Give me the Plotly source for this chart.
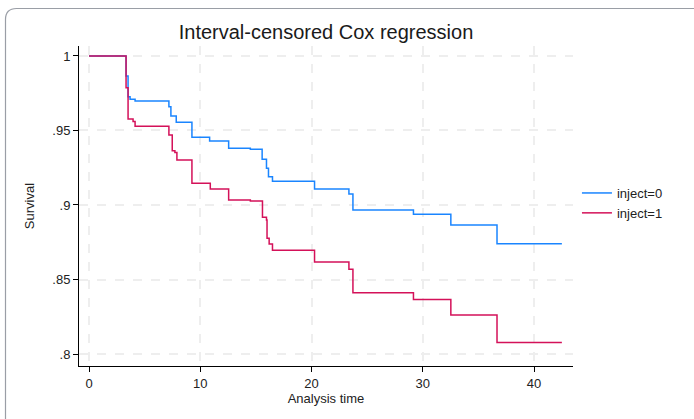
import plotly.graph_objects as go

# ---- data ----
t0 = [0, 3.33, 3.51, 3.69, 4.14, 7.18, 7.36, 7.84, 9.25, 10.84, 12.55, 14.5,
      15.56, 15.95, 16.13, 16.49, 20.27, 23.36, 23.72, 29.16, 32.52, 36.67, 42.5]
s0 = [1, 0.9866, 0.9727, 0.971, 0.9698, 0.966, 0.9597, 0.9555, 0.9455, 0.943,
      0.938, 0.9374, 0.9307, 0.9246, 0.919, 0.9159, 0.9107, 0.9074, 0.8966,
      0.8938, 0.8866, 0.874, 0.874]

t1 = [0, 3.33, 3.51, 3.96, 4.14, 7.18, 7.48, 7.72, 7.90, 9.25, 10.9, 12.55,
      14.5, 15.59, 15.95, 16.0, 16.19, 16.49, 20.27, 23.36, 23.72, 29.16,
      32.52, 36.67, 42.5]
s1 = [1, 0.9787, 0.9577, 0.956, 0.9528, 0.947, 0.9364, 0.9353, 0.9302, 0.9146,
      0.9107, 0.9034, 0.9027, 0.8918, 0.890, 0.8777, 0.8738, 0.8696, 0.8617,
      0.8568, 0.8411, 0.8365, 0.8262, 0.8077, 0.8077]

names = ["inject=0", "inject=1"]
xticks = [0, 10, 20, 30, 40]
yticks = [0.8, 0.85, 0.9, 0.95, 1.0]
ytick_labels = [".8", ".85", ".9", ".95", "1"]

# ---- layout geometry (pixels) ----
W, H = 694, 419
L, R, T, B = 79, 573, 46, 366

def px2paper(px, py):
    return (px - L) / (R - L), (B - py) / (B - T)

FONT = "Liberation Sans, Arial, sans-serif"

fig = go.Figure()
fig.add_trace(go.Scatter(x=t0, y=s0, mode="lines", line_shape="hv", name=names[0],
                         line=dict(color="#1a85ff", width=1.5)))
fig.add_trace(go.Scatter(x=t1, y=s1, mode="lines", line_shape="hv", name=names[1],
                         line=dict(color="#d41159", width=1.5)))

# outer rounded frame
left, top, right, bottom, r = 5.5, 8.5, 720, 440, 11
pts = [(left, bottom), (left, top + r), (left, top), (left + r, top), (right, top)]
pp = [px2paper(*p) for p in pts]
path = "M {} {} L {} {} Q {} {} {} {} L {} {}".format(
    pp[0][0], pp[0][1], pp[1][0], pp[1][1], pp[2][0], pp[2][1],
    pp[3][0], pp[3][1], pp[4][0], pp[4][1])
fig.add_shape(type="path", path=path, xref="paper", yref="paper",
              line=dict(color="#9a9ea6", width=1.2), layer="below")

fig.update_layout(
    width=W, height=H,
    margin=dict(l=L, r=W - R, t=T, b=H - B),
    paper_bgcolor="white", plot_bgcolor="white",
    font=dict(family=FONT, size=13, color="#222222"),
    title=dict(text="Interval-censored Cox regression", xref="paper", x=0.5,
               xanchor="center", yref="container", y=1 - 32 / H, yanchor="middle",
               font=dict(size=20, color="#1a1a1a", family=FONT)),
    showlegend=True,
    legend=dict(x=1.008, xanchor="left", y=px2paper(0, 203)[1], yanchor="middle",
                font=dict(size=13, color="#222222"), bgcolor="rgba(0,0,0,0)",
                itemwidth=30, tracegroupgap=0),
    xaxis=dict(range=[-0.9, 43.5], tickvals=xticks, ticks="outside", ticklen=5,
               tickcolor="black", showline=True, linecolor="black", linewidth=1,
               showgrid=True, gridcolor="#eeeeee", griddash="dash", gridwidth=1.5,
               zeroline=False, tickfont=dict(size=13),
               title=dict(text="Analysis time", font=dict(size=13), standoff=4)),
    yaxis=dict(range=[0.79195, 1.0067], tickvals=yticks, ticktext=ytick_labels,
               ticks="outside", ticklen=5, tickcolor="black", showline=True,
               linecolor="black", linewidth=1, showgrid=True, gridcolor="#eeeeee",
               griddash="dash", gridwidth=1.5, zeroline=False,
               tickfont=dict(size=13), tickangle=0,
               title=dict(text="Survival", font=dict(size=13), standoff=14)),
)

fig.write_html("out.html", config={"displayModeBar": False},
               post_script="document.body.style.margin='0';")
